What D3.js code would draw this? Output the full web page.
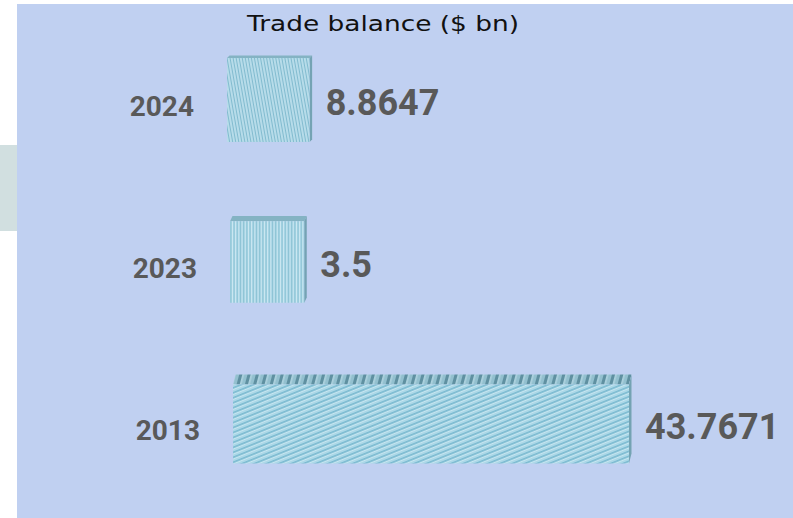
<!DOCTYPE html>
<html>
<head>
<meta charset="utf-8">
<script src="https://cdn.jsdelivr.net/npm/d3@7"></script>
<style>
  body { margin: 0; background: #fff; }
  svg { display: block; }
</style>
</head>
<body>
<svg id="chart" width="793" height="518"></svg>
<script>
// Data
const years = ["2024", "2023", "2013"];
const values = [8.8647, 3.5, 43.7671];
const valueLabels = ["8.8647", "3.5", "43.7671"];
const chartTitle = "Trade balance ($ bn)";

const svg = d3.select("#chart");
const width = 793, height = 518;

// Background panel + the small grey tab at left
svg.append("rect").attr("x", 0).attr("y", 145).attr("width", 17).attr("height", 86).attr("fill", "#d1dfe0");
svg.append("rect").attr("x", 17).attr("y", 4).attr("width", width - 17).attr("height", height - 4).attr("fill", "#c0d0f1");

// Hatch patterns
const defs = svg.append("defs");

function stripes(id, size, angle, bg, line, lw) {
    const p = defs.append("pattern")
        .attr("id", id)
        .attr("patternUnits", "userSpaceOnUse")
        .attr("width", size).attr("height", size)
        .attr("patternTransform", `rotate(${angle})`);
    p.append("rect").attr("width", size).attr("height", size).attr("fill", bg);
    p.append("rect").attr("x", 0).attr("width", lw).attr("height", size).attr("fill", line);
    p.append("rect").attr("x", lw + 0.6).attr("width", 0.7).attr("height", size).attr("fill", "#d3ecf5");
}
stripes("pat2024", 3, -10, "#a8d4e4", "#82bbcf", 1);
stripes("pat2023", 3.2, 0, "#aad6e6", "#8cc2d4", 1);
stripes("pat2013", 4.6, 68, "#aad7e7", "#7bbad0", 1.5);
stripes("patTop", 8, 15, "#93c0cf", "#5f90a1", 3);

const patterns = { "2024": "pat2024", "2023": "pat2023", "2013": "pat2013" };

// Scales
const y = d3.scalePoint().domain(years).range([100, 424]);
const w = d3.scalePow().exponent(2.2).domain([0, 43.7671]).range([73, 396]);

// Title
svg.append("text")
    .attr("x", 383).attr("y", 31)
    .attr("text-anchor", "middle")
    .attr("font-family", "'DejaVu Sans', sans-serif")
    .attr("font-size", 22)
    .attr("textLength", 272)
    .attr("lengthAdjust", "spacingAndGlyphs")
    .attr("fill", "#111")
    .text(chartTitle);

const rows = years.map((yr, i) => ({ year: yr, value: values[i], label: valueLabels[i], i }));

const g = svg.append("g");

rows.forEach(d => {
    const cy = y(d.year);
    const barH = 84 - 2.5 * d.i;
    const x0 = 227 + 3 * d.i;
    const bw = w(d.value);
    const top = cy - barH / 2;
    const bot = cy + barH / 2;
    // perspective: rows further down show more of the top face
    const dy = Math.max(2.5, (cy - 80) * 0.029);
    const dx = 2.5;

    // top face
    g.append("path")
        .attr("d", `M${x0},${top}L${x0 + dx},${top - dy}L${x0 + bw + dx},${top - dy}L${x0 + bw},${top}Z`)
        .attr("fill", d.i === 2 ? "url(#patTop)" : "#84b3c3");
    // side face
    g.append("path")
        .attr("d", `M${x0 + bw},${top}L${x0 + bw + dx},${top - dy}L${x0 + bw + dx},${bot - dy}L${x0 + bw},${bot}Z`)
        .attr("fill", "#74a3b3");
    // front face
    g.append("rect")
        .attr("x", x0).attr("y", top)
        .attr("width", bw).attr("height", barH)
        .attr("fill", `url(#${patterns[d.year]})`);

    // year label
    g.append("text")
        .attr("x", x0 - 33).attr("y", cy + 16)
        .attr("text-anchor", "end")
        .attr("font-family", "Roboto, sans-serif")
        .attr("font-weight", "bold")
        .attr("font-size", 28)
        .attr("fill", "#595959")
        .text(d.year);

    // value label
    g.append("text")
        .attr("x", x0 + bw + 16).attr("y", cy + 15)
        .attr("font-family", "Roboto, sans-serif")
        .attr("font-weight", "bold")
        .attr("font-size", 36)
        .attr("fill", "#595959")
        .text(d.label);
});
</script>
</body>
</html>
